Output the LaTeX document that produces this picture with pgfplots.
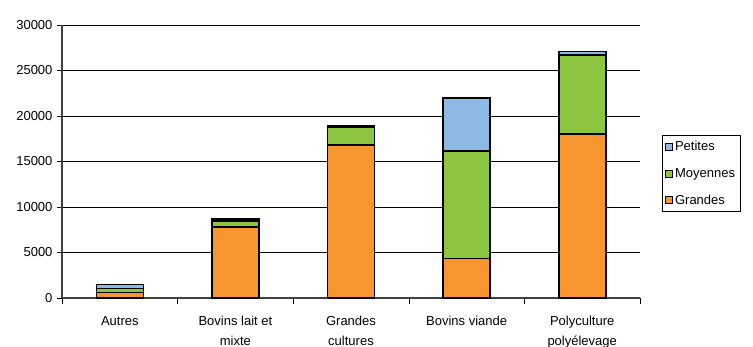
\documentclass[border=0pt]{standalone}
\usepackage{pgfplots}
\pgfplotsset{compat=1.18}
\usepackage{fontspec}
\setmainfont{Liberation Sans}
\definecolor{cpet}{HTML}{8DBAE4}
\definecolor{cmoy}{HTML}{8CC63F}
\definecolor{cgra}{HTML}{F7962E}
\begin{document}
\begin{tikzpicture}[x=1pt,y=1pt]
\begin{axis}[
  name=ax,
  scale only axis,
  width=578pt, height=273pt,
  ybar stacked,
  bar width=47pt,
  xmin=-0.5, xmax=4.5,
  ymin=0, ymax=30000,
  ytick={0,5000,10000,15000,20000,25000,30000},
  scaled y ticks=false,
  ymajorgrids,
  grid style={black, line width=0.6pt},
  xtick={0,1,2,3,4},
  xticklabels={Autres, Bovins lait et\\mixte, Grandes\\cultures, Bovins viande, Polyculture\\polyélevage},
  xticklabel style={align=center, font=\fontsize{13}{19.5}\selectfont, yshift=-10pt},
  major x tick style={draw=none},
  minor xtick={-0.5,0.5,1.5,2.5,3.5,4.5},
  minor x tick style={black, line width=0.6pt},
  minor tick length=6pt,
  major tick length=5pt,
  tick align=outside,
  ytick style={black, line width=0.6pt},
  yticklabel style={font=\fontsize{13}{15}\selectfont, xshift=-1pt},
  /pgf/number format/1000 sep={},
  /pgf/number format/assume math mode=true,
  axis x line*=bottom,
  axis y line*=left,
  axis line style={black!75, line width=1.5pt},
  every axis plot/.append style={draw=black, line width=1.6pt},
  reverse legend,
  legend style={at={(1.038,0.597)}, anchor=north west, draw=black, line width=0.6pt,
    font=\fontsize{13}{15}\selectfont, row sep=12pt, inner xsep=3pt, inner ysep=4pt},
  legend cell align=left,
  legend image code/.code={\draw[#1, line width=0.8pt] (0pt,-3.5pt) rectangle (7pt,3.5pt);},
  clip=false,
]
\addplot[fill=cgra] coordinates {(0,600) (1,7800) (2,16800) (3,4350) (4,18000)};
\addplot[fill=cmoy] coordinates {(0,450) (1,650) (2,2000) (3,11800) (4,8700)};
\addplot[fill=cpet] coordinates {(0,450) (1,250) (2,100) (3,5850) (4,400)};
\legend{Grandes, Moyennes, Petites}
\end{axis}
\pgfresetboundingbox
\useasboundingbox ([xshift=-62pt,yshift=-49pt]ax.south west) rectangle ([xshift=113pt,yshift=25pt]ax.north east);
\end{tikzpicture}
\end{document}
